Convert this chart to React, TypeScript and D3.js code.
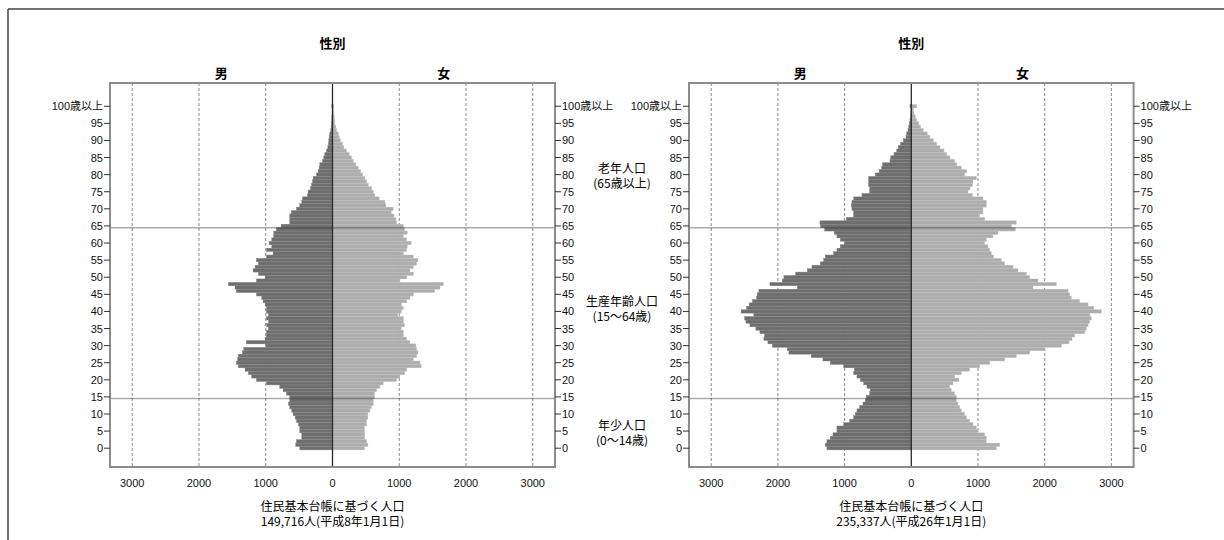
import React from "react";
import * as d3 from "d3";

const ages: number[] = Array.from({ length: 101 }, (_, i) => i);

// 平成8年 (left pyramid), index = age 0..100
const maleH8: number[] = [
  490, 550, 540, 460, 460, 490, 490, 510, 540, 560,
  590, 610, 640, 660, 640, 640, 690, 740, 790, 990,
  1140, 1210, 1260, 1310, 1410, 1440, 1420, 1410, 1350, 1330,
  1000, 1290, 1010, 990, 990, 960, 990, 960, 990, 960,
  990, 990, 1010, 1040, 1060, 1140, 1440, 1460, 1560, 1140,
  1010, 1110, 1190, 1160, 1110, 1140, 990, 890, 990, 910,
  950, 910, 880, 880, 840, 770, 640, 640, 640, 615,
  540, 490, 460, 450, 375, 365, 330, 315, 300, 290,
  240, 215, 200, 190, 150, 130, 115, 90, 70, 60,
  55, 50, 40, 25, 20, 15, 10, 10, 5, 5,
  10,
];
const femaleH8: number[] = [
  480, 530, 510, 480, 480, 480, 480, 510, 510, 530,
  530, 560, 580, 610, 610, 630, 630, 660, 710, 760,
  960, 1010, 1080, 1110, 1330, 1310, 1210, 1260, 1280, 1260,
  1250, 1160, 1110, 1060, 1060, 1030, 1080, 1060, 1060, 980,
  1030, 1060, 1030, 1110, 1160, 1210, 1530, 1610, 1660, 1010,
  1110, 1210, 1160, 1210, 1260, 1280, 1210, 1060, 1110, 1120,
  1180, 1110, 1060, 1120, 1080, 1060, 960, 950, 920, 880,
  910, 800, 785, 700, 635, 610, 585, 535, 510, 485,
  450, 420, 385, 350, 310, 285, 250, 210, 170, 150,
  120, 100, 85, 60, 50, 35, 30, 25, 20, 15,
  20,
];

// 平成26年 (right pyramid)
const maleH26: number[] = [
  1265, 1290, 1265, 1215, 1175, 1115, 1115, 1015, 925, 865,
  840, 815, 775, 725, 690, 675, 625, 615, 665, 715,
  765, 815, 865, 855, 1015, 1215, 1325, 1500, 1835, 1860,
  2085, 2150, 2210, 2200, 2270, 2330, 2420, 2480, 2500, 2360,
  2550, 2470, 2430, 2380, 2320, 2310, 2285, 1710, 2120, 1935,
  1910, 1735, 1560, 1490, 1365, 1315, 1290, 1165, 1115, 1065,
  1000, 1065, 1115, 1155, 1300, 1360, 1370, 975, 865, 865,
  890, 900, 890, 865, 740, 625, 625, 640, 640, 640,
  540, 480, 445, 430, 320, 310, 260, 220, 195, 160,
  120, 80, 70, 50, 40, 30, 20, 15, 10, 5,
  20,
];
const femaleH26: number[] = [
  1275, 1325, 1125, 1125, 1100, 1000, 975, 925, 875, 825,
  800, 750, 725, 700, 675, 675, 650, 600, 575, 625,
  715, 650, 750, 875, 1025, 1175, 1400, 1575, 1775, 2000,
  2250, 2365, 2410, 2450, 2600, 2625, 2650, 2675, 2700, 2675,
  2850, 2735, 2650, 2525, 2400, 2375, 2350, 1825, 2175, 1900,
  1775, 1725, 1600, 1525, 1400, 1350, 1235, 1200, 1175, 1150,
  1100, 1125, 1225, 1300, 1560, 1500, 1575, 1100, 1025, 1075,
  1075, 1125, 1125, 1075, 915, 850, 880, 915, 925, 975,
  800, 830, 750, 680, 650, 580, 530, 490, 430, 380,
  330, 280, 240, 180, 140, 110, 80, 60, 40, 30,
  80,
];

const xTicks: number[] = [-3000, -2000, -1000, 0, 1000, 2000, 3000];
const yTicks: number[] = [0, 5, 10, 15, 20, 25, 30, 35, 40, 45, 50, 55, 60, 65, 70, 75, 80, 85, 90, 95, 100];
const sexLabels: string[] = ["男", "女"];
const panelTitle = "性別";
const captionLine1 = "住民基本台帳に基づく人口";
const captions: string[] = ["149,716人(平成8年1月1日)", "235,337人(平成26年1月1日)"];
const groupNotes: { lines: string[]; age: number }[] = [
  { lines: ["老年人口", "(65歳以上)"], age: 80 },
  { lines: ["生産年齢人口", "(15〜64歳)"], age: 41 },
  { lines: ["年少人口", "(0〜14歳)"], age: 5 },
];

const FONT = "'Liberation Sans', Arial, 'Noto Sans CJK JP', sans-serif";
const JFONT = "'Noto Sans CJK JP', 'Liberation Sans', sans-serif";

const TOP = 83;
const BOTTOM = 467;

function Pyramid({ left, right, male, female, caption }: { left: number; right: number; male: number[]; female: number[]; caption: string }) {
  const x = d3.scaleLinear().domain([-3333, 3333]).range([left, right]);
  const y = d3.scaleLinear().domain([-5.5, 106.8]).range([BOTTOM, TOP]);
  const bh = Math.abs(y(0) - y(1));
  const cx = x(0);
  return (
    <g>
      {xTicks.filter((t) => t !== 0).map((t) => (
        <line key={"g" + t} x1={x(t)} x2={x(t)} y1={TOP} y2={BOTTOM} stroke="#8a8a8a" strokeWidth={1} strokeDasharray="3,2" />
      ))}
      {ages.map((a) => (
        <rect key={"m" + a} x={x(-male[a])} y={y(a) - bh / 2} width={cx - x(-male[a])} height={bh}
          fill="#6e6e6e" stroke="#858585" strokeWidth={0.4} />
      ))}
      {ages.map((a) => (
        <rect key={"f" + a} x={cx} y={y(a) - bh / 2} width={x(female[a]) - cx} height={bh}
          fill="#adadad" stroke="#c0c0c0" strokeWidth={0.4} />
      ))}
      {[64.5, 14.5].map((v) => (
        <line key={"s" + v} x1={left} x2={right} y1={y(v)} y2={y(v)} stroke="rgba(0,0,0,0.33)" strokeWidth={1.5} />
      ))}
      <line x1={cx} x2={cx} y1={TOP} y2={BOTTOM} stroke="#2a2a2a" strokeWidth={1.3} />
      <rect x={left} y={TOP} width={right - left} height={BOTTOM - TOP} fill="none" stroke="#8c8c8c" strokeWidth={2} />
      {yTicks.map((t) => (
        <g key={"y" + t}>
          <line x1={left - 6} x2={left} y1={y(t)} y2={y(t)} stroke="#333" strokeWidth={1} />
          <text x={left - 7} y={y(t)} textAnchor="end" dominantBaseline="central" fontSize={11} fontFamily={FONT} fill="#111">
            {t === 100 ? "100歳以上" : String(t)}
          </text>
          <line x1={right} x2={right + 6} y1={y(t)} y2={y(t)} stroke="#333" strokeWidth={1} />
          <text x={right + 7} y={y(t)} textAnchor="start" dominantBaseline="central" fontSize={11} fontFamily={FONT} fill="#111">
            {t === 100 ? "100歳以上" : String(t)}
          </text>
        </g>
      ))}
      {xTicks.map((t) => (
        <text key={"x" + t} x={x(t)} y={483} textAnchor="middle" dominantBaseline="central" fontSize={11} fontFamily={FONT} fill="#111">
          {String(Math.abs(t))}
        </text>
      ))}
      <text x={cx} y={42} textAnchor="middle" dominantBaseline="central" fontSize={13} fontWeight="bold" fontFamily={JFONT}>{panelTitle}</text>
      <text x={(left + cx) / 2} y={72} textAnchor="middle" dominantBaseline="central" fontSize={13} fontWeight="bold" fontFamily={JFONT}>{sexLabels[0]}</text>
      <text x={(cx + right) / 2} y={72} textAnchor="middle" dominantBaseline="central" fontSize={13} fontWeight="bold" fontFamily={JFONT}>{sexLabels[1]}</text>
      <text x={cx} y={505.5} textAnchor="middle" dominantBaseline="central" fontSize={12} fontFamily={JFONT}>{captionLine1}</text>
      <text x={cx} y={520.5} textAnchor="middle" dominantBaseline="central" fontSize={12} fontFamily={JFONT}>{caption}</text>
    </g>
  );
}

export default function App() {
  const y = d3.scaleLinear().domain([-5.5, 106.8]).range([BOTTOM, TOP]);
  return (
    <svg width={1224} height={540} style={{ position: "absolute", left: 0, top: 0, background: "#fff" }}>
      <line x1={8} x2={1224} y1={9} y2={9} stroke="#444" strokeWidth={1.5} />
      <line x1={8} x2={8} y1={9} y2={540} stroke="#444" strokeWidth={1.5} />
      <Pyramid left={110} right={555} male={maleH8} female={femaleH8} caption={captions[0]} />
      <Pyramid left={689} right={1133.6} male={maleH26} female={femaleH26} caption={captions[1]} />
      {groupNotes.map((g, i) => (
        <g key={"n" + i}>
          <text x={622} y={y(g.age) - 7} textAnchor="middle" dominantBaseline="central" fontSize={12} fontFamily={JFONT}>{g.lines[0]}</text>
          <text x={622} y={y(g.age) + 8} textAnchor="middle" dominantBaseline="central" fontSize={12} fontFamily={JFONT}>{g.lines[1]}</text>
        </g>
      ))}
    </svg>
  );
}
